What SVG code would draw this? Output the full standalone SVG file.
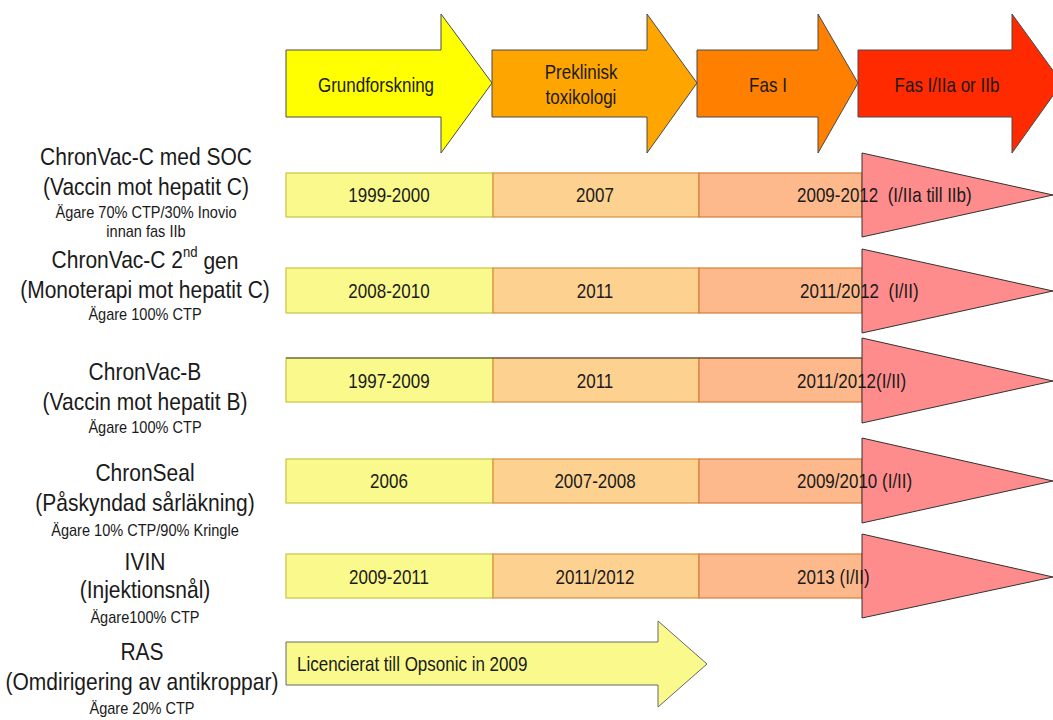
<svg xmlns="http://www.w3.org/2000/svg" width="1053" height="720" viewBox="0 0 1053 720">
<style>
text{font-family:"Liberation Sans",Arial,sans-serif;fill:#1a1a1a;dominant-baseline:central;transform-box:fill-box;transform-origin:center}
.ph{stroke:#4a4a4a;stroke-width:1}
.pt{font-size:20px;text-anchor:middle;transform:scaleX(.85)}
.lb{font-size:24px;text-anchor:middle;transform:scaleX(.875)}
.ow{font-size:16px;text-anchor:middle;transform:scaleX(.91)}
.bt{font-size:20px;text-anchor:middle;transform:scaleX(.85)}
.bs{font-size:20px;white-space:pre;transform-origin:left center;transform:scaleX(.85)}
.y{fill:#FAFA8C;stroke:#C9C244;stroke-width:1.2}
.o{fill:#FDD190;stroke:#D8903E;stroke-width:1.2}
.s{fill:#FDB98B;stroke:#D67E3A;stroke-width:1.2}
.tri{fill:#FF8C8C;stroke:#333;stroke-width:1}
</style>
<rect width="1053" height="720" fill="#fff"/>
<g id="phase-grundforskning">
<polygon class="ph" fill="#FFFF00" points="286,50 441,50 441,14 492,83 441,153 441,117 286,117"/>
<text class="pt" x="376" y="85">Grundforskning</text>
</g>
<g id="phase-preklinisk">
<polygon class="ph" fill="#FFA500" points="492,50 647,50 647,14 697,83 647,153 647,117 492,117"/>
<text class="pt" x="581" y="72">Preklinisk</text>
<text class="pt" x="581" y="97">toxikologi</text>
</g>
<g id="phase-fas1">
<polygon class="ph" fill="#FF7F00" points="697,50 818,50 818,14 858,83 818,153 818,117 697,117"/>
<text class="pt" x="768" y="85">Fas I</text>
</g>
<g id="phase-fas2">
<polygon class="ph" fill="#FF2A00" points="858,50 1012,50 1012,14 1062,83 1012,153 1012,117 858,117"/>
<text class="pt" x="947" y="85">Fas I/IIa or IIb</text>
</g>

<g id="label-chronvac-c">
<text class="lb" x="146" y="157">ChronVac-C med SOC</text>
<text class="lb" x="146" y="187">(Vaccin mot hepatit C)</text>
<text class="ow" x="146" y="212">Ägare 70% CTP/30% Inovio</text>
<text class="ow" x="146" y="231">innan fas IIb</text>
</g>
<g id="row-chronvac-c">
<rect class="y" x="286" y="173" width="207" height="44"/>
<rect class="o" x="493" y="173" width="206" height="44"/>
<rect class="s" x="699" y="173" width="163" height="44"/>
<polygon class="tri" points="862,153 1053,195 862,237"/>
<text class="bt" x="389" y="195">1999-2000</text>
<text class="bt" x="595" y="195">2007</text>
<text class="bs" x="797" y="195">2009-2012  (I/IIa till IIb)</text>
</g>

<g id="label-chronvac-c2">
<text class="lb" x="145" y="260">ChronVac-C 2<tspan font-size="15" dy="-8">nd</tspan><tspan dy="8"> gen</tspan></text>
<text class="lb" x="145" y="290">(Monoterapi mot hepatit C)</text>
<text class="ow" x="145" y="314">Ägare 100% CTP</text>
</g>
<g id="row-chronvac-c2">
<rect class="y" x="286" y="268" width="207" height="45"/>
<rect class="o" x="493" y="268" width="206" height="45"/>
<rect class="s" x="699" y="268" width="163" height="45"/>
<polygon class="tri" points="862,249 1053,291 862,333"/>
<text class="bt" x="389" y="291">2008-2010</text>
<text class="bt" x="595" y="291">2011</text>
<text class="bs" x="800" y="291">2011/2012  (I/II)</text>
</g>

<g id="label-chronvac-b">
<text class="lb" x="145" y="372">ChronVac-B</text>
<text class="lb" x="145" y="402">(Vaccin mot hepatit B)</text>
<text class="ow" x="145" y="427">Ägare 100% CTP</text>
</g>
<g id="row-chronvac-b">
<rect class="y" x="286" y="358" width="207" height="44"/>
<rect class="o" x="493" y="358" width="206" height="44"/>
<rect class="s" x="699" y="358" width="163" height="44"/>
<line x1="286" y1="358" x2="862" y2="358" stroke="#444" stroke-width="1.2"/>
<polygon class="tri" points="862,338 1053,381 862,423"/>
<text class="bt" x="389" y="381">1997-2009</text>
<text class="bt" x="595" y="381">2011</text>
<text class="bs" x="797" y="381">2011/2012(I/II)</text>
</g>

<g id="label-chronseal">
<text class="lb" x="145" y="473">ChronSeal</text>
<text class="lb" x="145" y="503">(Påskyndad sårläkning)</text>
<text class="ow" x="145" y="530">Ägare 10% CTP/90% Kringle</text>
</g>
<g id="row-chronseal">
<rect class="y" x="286" y="459" width="207" height="44"/>
<rect class="o" x="493" y="459" width="206" height="44"/>
<rect class="s" x="699" y="459" width="163" height="44"/>
<polygon class="tri" points="862,438 1053,481 862,523"/>
<text class="bt" x="389" y="481">2006</text>
<text class="bt" x="595" y="481">2007-2008</text>
<text class="bs" x="797" y="481">2009/2010 (I/II)</text>
</g>

<g id="label-ivin">
<text class="lb" x="145" y="562">IVIN</text>
<text class="lb" x="145" y="590">(Injektionsnål)</text>
<text class="ow" x="145" y="617">Ägare100% CTP</text>
</g>
<g id="row-ivin">
<rect class="y" x="286" y="554" width="207" height="44"/>
<rect class="o" x="493" y="554" width="206" height="44"/>
<rect class="s" x="699" y="554" width="163" height="44"/>
<polygon class="tri" points="862,534 1053,577 862,618"/>
<text class="bt" x="389" y="577">2009-2011</text>
<text class="bt" x="595" y="577">2011/2012</text>
<text class="bs" x="797" y="577">2013 (I/II)</text>
</g>

<g id="label-ras">
<text class="lb" x="142" y="652">RAS</text>
<text class="lb" x="142" y="682">(Omdirigering av antikroppar)</text>
<text class="ow" x="142" y="708">Ägare 20% CTP</text>
</g>
<g id="row-ras">
<polygon fill="#FAFA8C" stroke="#666" stroke-width="1" points="286,642 658,642 658,621 707,664 658,707 658,685 286,685"/>
<text class="bs" x="297" y="664">Licencierat till Opsonic in 2009</text>
</g>

<g id="connectors"/>
</svg>
